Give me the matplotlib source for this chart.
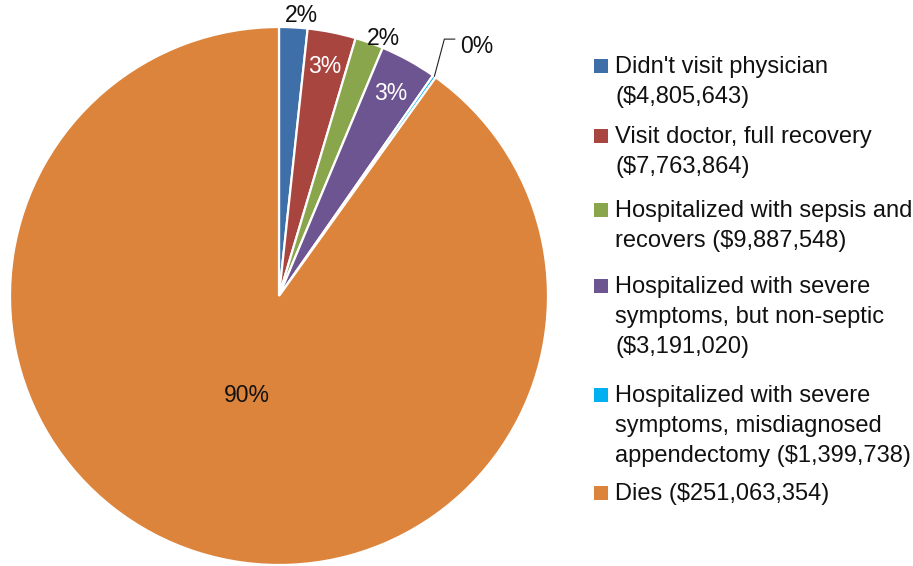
import matplotlib
matplotlib.use("Agg")
import matplotlib.pyplot as plt
import numpy as np
from matplotlib.patches import Rectangle

plt.rcParams['font.family'] = ['Liberation Sans', 'DejaVu Sans']

# slice shares (percent of total cost)
shares = [1.7, 2.9, 1.7, 3.4, 0.2, 90.1]
labels = [
    "Didn't visit physician\n($4,805,643)",
    "Visit doctor, full recovery\n($7,763,864)",
    "Hospitalized with sepsis and\nrecovers ($9,887,548)",
    "Hospitalized with severe\nsymptoms, but non-septic\n($3,191,020)",
    "Hospitalized with severe\nsymptoms, misdiagnosed\nappendectomy ($1,399,738)",
    "Dies ($251,063,354)",
]
colors = ["#3e6fa8", "#a8453f", "#89a64d", "#6d5591", "#00b0f0", "#dc843c"]

# radial position of each percent label (None = leader line label)
label_r = [1.045, 0.87, 1.035, 0.86, None, 0.39]
label_turn = [1.5, 0.0, 2.5, 0.0, 0.0, 0.0]   # degrees clockwise nudge
label_col = ["#111111", "white", "#111111", "white", "#111111", "#111111"]

W, H = 913, 566
fig = plt.figure(figsize=(W / 100, H / 100), dpi=100)
cx, cy, R = 279, 296, 269
ax = fig.add_axes([(cx - R) / W, (H - cy - R) / H, 2 * R / W, 2 * R / H])

wedges, texts, autotexts = ax.pie(
    shares, colors=colors, startangle=90, counterclock=False,
    autopct='%.0f%%', radius=1.0,
    wedgeprops=dict(edgecolor='white', linewidth=1.6),
    textprops=dict(fontsize=16.5))
ax.set_xlim(-1, 1)
ax.set_ylim(-1, 1)
ax.set_aspect('equal')

for w, t, r, turn, c in zip(wedges, autotexts, label_r, label_turn, label_col):
    mid = np.deg2rad((w.theta1 + w.theta2) / 2 - turn)
    t.set_color(c)
    if r is None:
        # tiny slice: label outside, elbow leader line ending at its top-left
        t.set_position((0.673, 0.929))
        t.set_ha('left')
        ax.annotate('', xy=(np.cos(mid), np.sin(mid)), xytext=(0.654, 0.955),
                    arrowprops=dict(arrowstyle='-', color='#222222', lw=0.8,
                                    shrinkA=0, shrinkB=0,
                                    connectionstyle='angle,angleA=0,angleB=75,rad=0'))
    else:
        t.set_position((r * np.cos(mid), r * np.sin(mid)))

# legend drawn by hand: square sitting on the first line's baseline,
# one text per line so the line pitch stays fixed
legend_base = [73, 143, 217, 293, 402, 500]
pitch = 30
for lab, c, yb in zip(labels, colors, legend_base):
    fig.patches.append(Rectangle((594 / W, (H - yb) / H), 14 / W, 14 / H,
                                 transform=fig.transFigure, facecolor=c,
                                 edgecolor='none'))
    for j, line in enumerate(lab.split("\n")):
        fig.text(615 / W, (H - yb - j * pitch) / H, line, fontsize=17,
                 va='baseline', ha='left', color='#111111')

fig.savefig("out.png", dpi=100)
